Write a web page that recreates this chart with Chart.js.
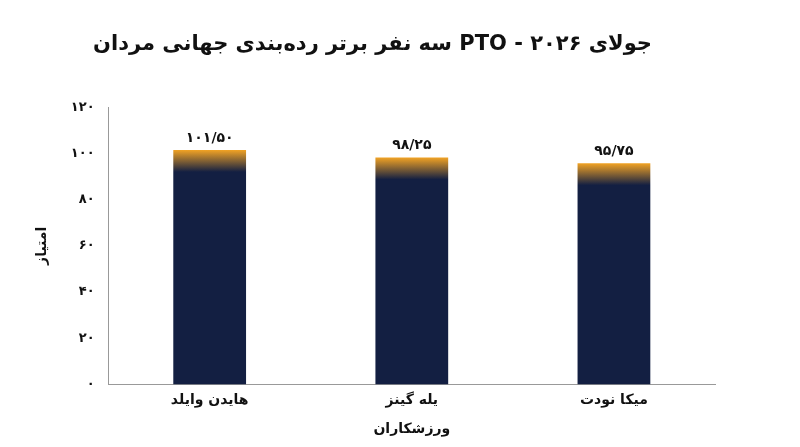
<!DOCTYPE html>
<html><head><meta charset="utf-8">
<script src="https://cdn.jsdelivr.net/npm/chart.js@4"></script>
<style>html,body{margin:0;background:#fff}#w{width:800px;height:447px}</style>
</head><body><div id="w"><canvas id="c"></canvas></div>
<script>
const categories=["هایدن وایلد","یله گینز","میکا نودت"];
const values=[101.50,98.25,95.75];
const valueLabels=["۱۰۱/۵۰","۹۸/۲۵","۹۵/۷۵"];
const tickLabels={0:"۰",20:"۲۰",40:"۴۰",60:"۶۰",80:"۸۰",100:"۱۰۰",120:"۱۲۰"};
const F="'DejaVu Sans', sans-serif";
const NAVY="#131f42",ORANGE="#f2a324";
function grad(ctx){
  const c=ctx.chart;
  if(!c.chartArea||!c.scales||!c.scales.y||ctx.dataIndex===undefined) return NAVY;
  const top=c.scales.y.getPixelForValue(values[ctx.dataIndex]);
  if(!isFinite(top)) return NAVY;
  const g=c.ctx.createLinearGradient(0,top,0,top+22);
  g.addColorStop(0,ORANGE);g.addColorStop(1,NAVY);return g;
}
const labelPlugin={id:'lbl',afterDatasetsDraw(ch){
  const ctx=ch.ctx;ctx.save();ctx.font="bold 14px "+F;ctx.fillStyle="#111";ctx.textAlign="center";ctx.textBaseline="bottom";
  ch.getDatasetMeta(0).data.forEach((b,i)=>ctx.fillText(valueLabels[i],b.x,b.y-5));ctx.restore();}};
new Chart(document.getElementById('c'),{type:'bar',
data:{labels:categories,datasets:[{data:values,backgroundColor:grad,barPercentage:0.36,categoryPercentage:1}]},
options:{responsive:true,maintainAspectRatio:false,animation:false,
layout:{padding:{left:30,right:85,top:10,bottom:5}},
plugins:{legend:{display:false},tooltip:{enabled:false},
title:{display:true,text:"سه نفر برتر رده‌بندی جهانی مردان PTO - جولای ۲۰۲۶",font:{family:F,size:21,weight:'bold'},color:"#111",padding:{top:22,bottom:50}}},
scales:{
x:{grid:{display:false,drawTicks:false},border:{color:"#999"},ticks:{color:"#111",font:{family:F,size:14,weight:'bold'},padding:8},
 title:{display:true,text:"ورزشکاران",color:"#111",font:{family:F,size:14,weight:'bold'},padding:{top:4}}},
y:{min:0,max:120,grid:{display:false,drawTicks:false},border:{color:"#999"},
 ticks:{stepSize:20,color:"#111",padding:14,font:{family:F,size:13,weight:'bold'},callback:v=>tickLabels[v]},
 title:{display:true,text:"امتیاز",color:"#111",font:{family:F,size:14,weight:'bold'},padding:{bottom:6}}}}},
plugins:[labelPlugin]});
</script></body></html>
